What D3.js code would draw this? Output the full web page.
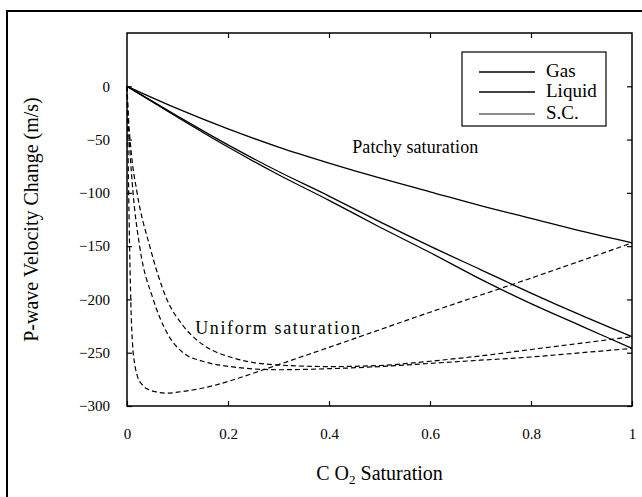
<!DOCTYPE html>
<html lang="en">
<head>
<meta charset="UTF-8">
<title>P-wave Velocity Change vs CO2 Saturation</title>
<script src="https://d3js.org/d3.v7.min.js"></script>
<style>
    body { margin: 0; background: #fff; }
</style>
</head>
<body>
<div id="chart"></div>
<script>
    // axis ticks
    const xTicks = [0, 0.2, 0.4, 0.6, 0.8, 1];
    const yTicks = [0, -50, -100, -150, -200, -250, -300];
    const fluids = ["Gas", "Liquid", "S.C."];

    // patchy saturation (solid lines)
    const patchyS = [0, 0.1, 0.2, 0.3, 0.4, 0.5, 0.6, 0.7, 0.8, 0.9, 1];
    const patchyGas = [0, -21, -40, -57, -72, -86, -99, -112, -124, -136, -147];
    const patchyLiquid = [0, -28, -55, -80, -103, -127, -150, -172, -194, -215, -235];
    const patchySC = [0, -29, -57, -83, -107, -132, -156, -181, -204, -225, -246];

    // uniform saturation (dashed lines)
    const uniformGasS = [0, 0.002, 0.004, 0.006, 0.008, 0.011, 0.015, 0.02, 0.03, 0.045, 0.06, 0.08, 0.1, 0.13, 0.17, 0.22, 0.27, 0.4, 0.6, 0.8, 1];
    const uniformGasV = [0, -60, -120, -170, -210, -242, -260, -271, -280, -285, -287, -288, -287, -285, -281, -274, -266, -245, -212, -180, -147];
    const uniformLiquidS = [0, 0.003, 0.008, 0.02, 0.045, 0.079, 0.11, 0.138, 0.17, 0.204, 0.283, 0.4, 0.5, 0.6, 0.7, 0.8, 0.9, 1];
    const uniformLiquidV = [0, -30, -60, -100, -150, -200, -224, -238, -248, -254, -261, -263, -262, -258, -253, -247, -241, -235];
    const uniformSCS = [0, 0.002, 0.005, 0.012, 0.025, 0.052, 0.08, 0.111, 0.15, 0.204, 0.3, 0.4, 0.5, 0.6, 0.7, 0.8, 0.9, 1];
    const uniformSCV = [0, -30, -55, -100, -150, -200, -232, -250, -258, -263, -266, -265, -263, -260, -257, -254, -250, -246];

    const serif = '"Liberation Serif", "Times New Roman", Times, serif';

    const W = 642, H = 497;
    const margin = { top: 33, right: 10, bottom: 91, left: 127 };
    const iw = W - margin.left - margin.right;
    const ih = H - margin.top - margin.bottom;

    const svg = d3.select("#chart").append("svg")
        .attr("width", W).attr("height", H)
        .style("font-family", serif);

    // outer figure border (top and left only visible)
    svg.append("path")
        .attr("d", `M7,${H} L7,11 L${W},11`)
        .attr("fill", "none").attr("stroke", "#000").attr("stroke-width", 2);

    const g = svg.append("g").attr("transform", `translate(${margin.left},${margin.top})`);

    const x = d3.scaleLinear().domain([0, 1]).range([0, iw]);
    const y = d3.scaleLinear().domain([-300, 50]).range([ih, 0]);

    // axes with inward ticks on all four sides
    const tickLen = 5;
    g.append("g").attr("transform", `translate(0,${ih})`)
        .call(d3.axisBottom(x).tickValues(xTicks).tickSizeInner(-tickLen).tickSizeOuter(0).tickPadding(22)
            .tickFormat(d => d3.format("~g")(d)));
    g.append("g")
        .call(d3.axisLeft(y).tickValues(yTicks).tickSizeInner(-tickLen).tickSizeOuter(0).tickPadding(17)
            .tickFormat(d => d3.format("d")(d)));
    g.append("g")
        .call(d3.axisTop(x).tickValues(xTicks.slice(1, -1)).tickSizeInner(-tickLen).tickSizeOuter(0).tickFormat(""));
    g.append("g").attr("transform", `translate(${iw},0)`)
        .call(d3.axisRight(y).tickValues(yTicks).tickSizeInner(-tickLen).tickSizeOuter(0).tickFormat(""));

    g.selectAll(".domain").remove();
    g.selectAll("g").attr("font-family", null);
    g.selectAll(".tick line").attr("stroke", "#000").attr("stroke-width", 1.2);
    g.selectAll(".tick text").style("font-size", "15px").style("font-family", serif).attr("fill", "#000");

    // plot frame
    g.append("rect").attr("width", iw).attr("height", ih)
        .attr("fill", "none").attr("stroke", "#000").attr("stroke-width", 1.5);

    const line = d3.line().x(d => x(d[0])).y(d => y(d[1])).curve(d3.curveMonotoneX);
    const zip = (a, b) => a.map((v, i) => [v, b[i]]);

    const patchy = [patchyGas, patchyLiquid, patchySC];
    patchy.forEach(v => {
        g.append("path").attr("d", line(zip(patchyS, v)))
            .attr("fill", "none").attr("stroke", "#000").attr("stroke-width", 1.3);
    });

    const uniform = [[uniformGasS, uniformGasV], [uniformLiquidS, uniformLiquidV], [uniformSCS, uniformSCV]];
    uniform.forEach(([s, v]) => {
        g.append("path").attr("d", line(zip(s, v)))
            .attr("fill", "none").attr("stroke", "#000").attr("stroke-width", 1.2)
            .attr("stroke-dasharray", "5,3");
    });

    // curve labels
    g.append("text").attr("x", x(0.446)).attr("y", y(-63)).attr("textLength", 126)
        .style("font-family", serif).style("font-size", "18px").text("Patchy saturation");
    g.append("text").attr("x", x(0.135)).attr("y", y(-232)).attr("textLength", 165)
        .style("font-family", serif).style("font-size", "18px").text("Uniform saturation");

    // legend
    const lg = svg.append("g").attr("transform", "translate(462,52)");
    lg.append("rect").attr("width", 144).attr("height", 74)
        .attr("fill", "#fff").attr("stroke", "#000").attr("stroke-width", 1.2);
    const rowY = [20, 40, 62];
    fluids.forEach((f, i) => {
        lg.append("line").attr("x1", 17).attr("x2", 73).attr("y1", rowY[i]).attr("y2", rowY[i])
            .attr("stroke", "#000").attr("stroke-width", i === 2 ? 0.9 : 1.3);
        lg.append("text").attr("x", 84).attr("y", rowY[i] + 5)
            .style("font-family", serif).style("font-size", "19px").text(f);
    });

    // axis titles
    const xt = svg.append("text").attr("x", margin.left + iw / 2).attr("y", 480)
        .attr("text-anchor", "middle").style("font-family", serif).style("font-size", "20px");
    xt.append("tspan").text("C O");
    xt.append("tspan").attr("dy", 4).style("font-size", "13px").text("2");
    xt.append("tspan").attr("dy", -4).text(" Saturation");

    svg.append("text")
        .attr("transform", `translate(38,${margin.top + ih / 2}) rotate(-90)`)
        .attr("text-anchor", "middle").style("font-family", serif).style("font-size", "20px")
        .text("P-wave Velocity Change (m/s)");
</script>
</body>
</html>
